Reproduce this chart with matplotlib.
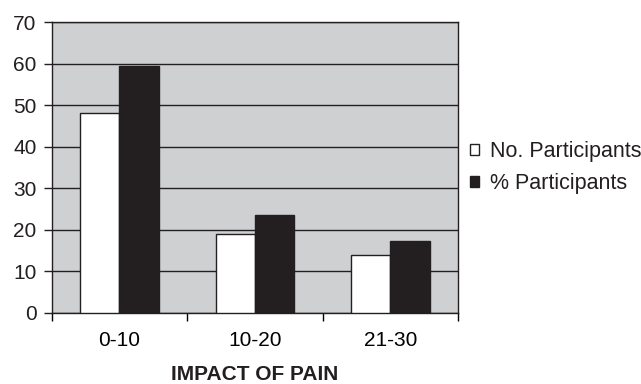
import numpy as np
import matplotlib.pyplot as plt

plt.rcParams['font.family'] = ['Liberation Sans', 'DejaVu Sans']

categories = ['0-10', '10-20', '21-30']
no_participants = [48, 19, 14]
pct_participants = [59.3, 23.5, 17.3]

fig = plt.figure(figsize=(6.41, 3.84), dpi=100)
ax = fig.add_axes([0.0806, 0.1857, 0.6339, 0.757])
ax.set_facecolor('#cfd0d2')

x = np.arange(len(categories))
w = 0.29
ax.bar(x - w / 2, no_participants, w, color='white', edgecolor='#231f20', linewidth=1, label='No. Participants', zorder=3)
ax.bar(x + w / 2, pct_participants, w, color='#231f20', edgecolor='#231f20', linewidth=1, label='% Participants', zorder=3)

ax.set_ylim(0, 70)
ax.set_yticks(range(0, 71, 10))
ax.set_xlim(-0.5, 2.5)
ax.set_xticks([-0.5, 0.5, 1.5, 2.5])
ax.set_xticklabels([])
ax.set_xticks(x, minor=True)
ax.set_xticklabels(categories, minor=True)
ax.tick_params(axis='x', which='minor', length=0, pad=13, labelsize=15)
ax.tick_params(axis='x', which='major', length=6, width=1, direction='out')
ax.tick_params(axis='y', length=6, width=1, labelsize=15, pad=5, colors='#231f20')
ax.yaxis.grid(True, color='#231f20', linewidth=1, zorder=1)
ax.set_axisbelow(True)
for s in ax.spines.values():
    s.set_color('#231f20')
    s.set_linewidth(1)

ax.set_xlabel('IMPACT OF PAIN', fontsize=15, fontweight='bold', labelpad=11, color='#231f20')

ax.legend(loc='center left', bbox_to_anchor=(0.733, 0.563), bbox_transform=fig.transFigure,
          frameon=False, borderpad=0, borderaxespad=0,
          fontsize=15.5, handlelength=0.42, handleheight=0.42, handletextpad=0.5,
          labelspacing=0.5, labelcolor='#231f20')

fig.savefig('out.png', dpi=100)
